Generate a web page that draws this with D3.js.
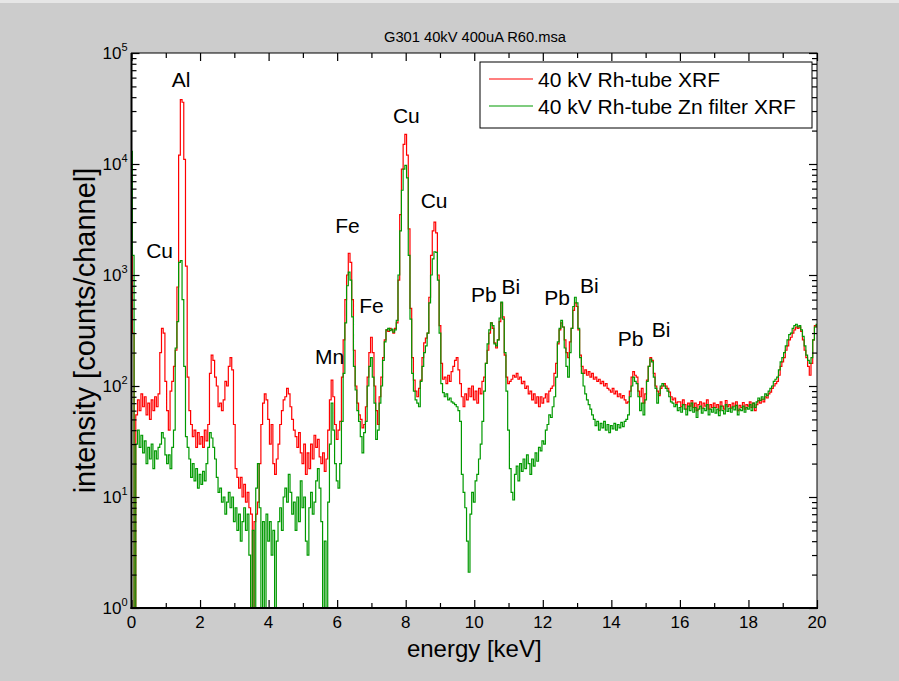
<!DOCTYPE html>
<html>
<head>
<meta charset="utf-8">
<script src="https://cdn.jsdelivr.net/npm/d3@7"></script>
<style>
  body { margin: 0; background: #cccccc; }
  svg { display: block; font-family: "Liberation Sans", Arial, sans-serif; }
</style>
</head>
<body>
<svg id="chart" width="899" height="681"></svg>
<script>
// channel grid: 0 .. 20 keV in 0.05 keV steps (401 channels)
var step = 0.05;

// 40 kV Rh-tube XRF, counts per channel (one row per keV)
var redCounts = [
  5000,300,0.5,55,75,60,85,65,80,55,70,50,75,60,80,65,85,200,330,300,
  110,60,40,90,110,150,210,780,12000,38000,36000,11000,1200,120,60,45,35,40,28,38,
  30,35,28,40,32,45,130,190,170,120,100,65,70,60,75,110,100,150,180,140,
  45,18,15,12,15,10,13,9,11,8,7,0.5,6,7,9,20,45,70,85,75,
  50,30,45,20,16,22,30,45,60,75,80,95,85,65,50,40,35,28,38,25,
  20,30,16,25,18,30,22,36,28,33,23,20,25,17,22,40,75,113,80,45,
  33,40,48,120,260,600,1000,1570,1300,600,210,100,70,55,50,42,45,65,120,200,
  275,200,100,60,45,80,120,180,260,320,310,330,320,300,330,370,900,3500,9000,15000,
  18500,12000,2600,500,180,113,90,80,95,113,180,245,270,300,630,1500,2500,3000,2400,1000,
  350,160,115,120,105,125,110,135,150,170,180,140,105,80,65,85,75,95,80,100,
  75,90,70,95,85,110,120,160,210,300,370,330,245,220,260,380,560,420,190,120,
  105,110,115,125,120,130,115,120,105,110,95,100,85,90,75,85,70,80,65,80,
  70,78,85,72,90,95,100,130,160,240,320,370,340,260,200,180,250,330,480,560,
  520,320,190,150,130,140,125,135,120,130,115,120,110,115,105,110,100,105,95,92,
  88,95,85,90,80,85,78,82,75,70,72,90,120,135,125,120,90,80,95,70,
  85,113,150,180,170,130,100,90,82,95,100,105,100,95,88,80,75,78,70,72,
  72,65,75,68,62,70,66,74,64,70,60,68,72,63,70,66,75,62,68,64,
  70,64,68,60,72,66,62,74,65,68,63,70,66,72,60,67,64,71,62,68,
  66,72,64,70,60,68,74,70,76,72,80,78,85,88,95,100,105,110,125,150,
  165,180,210,230,260,275,300,320,340,330,340,310,260,210,180,150,125,160,260,350,
  340
];

// 40 kV Rh-tube Zn filter XRF
var greenCounts = [
  13000,1500,0.5,30,40,28,36,25,32,20,28,22,30,18,26,22,28,30,38,34,
  24,20,24,18,28,40,220,380,1300,1350,600,150,35,28,22,15,20,14,18,12,
  16,13,17,14,20,28,38,34,28,22,15,11,12,9,10,7,9,11,8,10,
  6,8,5,7,4,6,8,5,7,3,0.5,5,0.5,12,20,8,0.5,6,0.5,7,
  4,6,3,5,0.5,4,6,8,5,10,12,9,16,11,7,9,5,10,6,14,
  8,10,4,3,8,11,7,9,14,18,12,6,0.5,4,0.5,9,30,70,40,20,
  14,12,20,48,130,370,800,1060,900,420,150,92,60,48,35,25,38,48,100,150,
  180,120,70,33,40,70,100,170,250,320,330,315,325,305,320,390,1000,2500,5800,9000,
  9700,7500,1500,400,130,90,75,70,65,110,150,200,230,300,560,1000,1400,1620,1600,900,
  300,105,87,80,85,75,78,72,70,68,65,60,48,16,11,8,4,2.1,7,11,
  9,14,16,22,30,48,90,160,240,320,370,350,240,230,260,410,570,400,200,90,
  40,18,11,9.4,16,19,14,20,17,22,18,24,20,16,22,19,25,21,28,26,
  32,30,40,45,55,52,65,80,120,250,330,390,340,220,150,120,200,330,520,630,
  560,330,180,130,100,85,75,68,62,55,50,44,48,40,46,42,48,40,45,38,
  44,41,46,40,45,42,47,43,48,50,55,80,100,120,110,105,80,60,70,55,
  75,110,150,175,165,120,95,70,85,100,105,100,95,90,80,72,70,65,68,60,
  64,58,68,62,55,66,60,70,58,64,52,62,66,57,63,60,68,55,62,58,
  64,57,62,54,66,60,56,68,59,63,58,65,61,67,55,62,60,66,58,64,
  62,68,60,70,64,72,78,74,80,76,85,82,90,95,100,110,115,120,140,165,
  180,200,230,260,290,300,330,350,360,340,350,320,280,230,190,170,160,180,260,340,
  360
];

var seriesNames = ["40 kV Rh-tube XRF", "40 kV Rh-tube Zn filter XRF"];
var seriesColors = ["#ff0000", "#009900"];

var xMajor = [0, 2, 4, 6, 8, 10, 12, 14, 16, 18, 20];
var xMinor = [1, 3, 5, 7, 9, 11, 13, 15, 17, 19];
var yDecades = [0, 1, 2, 3, 4, 5];

// element labels: [text, energy, counts at text baseline]
var peakLabels = [
  ["Al", 1.45, 49000],
  ["Cu", 0.82, 1420],
  ["Fe", 6.30, 2400],
  ["Fe", 7.0, 455],
  ["Mn", 5.78, 158],
  ["Cu", 8.02, 23400],
  ["Cu", 8.83, 4000],
  ["Pb", 10.28, 570],
  ["Bi", 11.07, 670],
  ["Pb", 12.42, 537],
  ["Bi", 13.36, 690],
  ["Pb", 14.56, 230],
  ["Bi", 15.45, 276]
];

var W = 899, H = 681;
var pLeft = 131.5, pRight = 817, pTop = 53, pBottom = 608;

var svg = d3.select('#chart');

var x = d3.scaleLinear().domain([0, 20]).range([pLeft, pRight]);
var y = d3.scaleLog().domain([1, 1e5]).range([pBottom, pTop]);

svg.append('rect').attr('width', W).attr('height', H).attr('fill', '#cccccc');
svg.append('rect').attr('width', W).attr('height', 3).attr('fill', '#e6e6e6');

svg.append('rect')
  .attr('x', pLeft).attr('y', pTop)
  .attr('width', pRight - pLeft).attr('height', pBottom - pTop)
  .attr('fill', '#ffffff');

svg.append('clipPath').attr('id', 'plotclip')
  .append('rect')
  .attr('x', pLeft).attr('y', pTop)
  .attr('width', pRight - pLeft).attr('height', pBottom - pTop);

var line = d3.line()
  .x(function(d, i){ return x(i * step); })
  .y(function(d){ return y(Math.max(d, 0.3)); })
  .curve(d3.curveStep);

var plot = svg.append('g').attr('clip-path', 'url(#plotclip)');

[redCounts, greenCounts].forEach(function(vals, k){
  plot.append('path')
    .datum(vals)
    .attr('fill', 'none')
    .attr('stroke', seriesColors[k])
    .attr('stroke-width', 1.2)
    .attr('d', line);
});

// ticks (inward) on all four sides
function tickGroup(axis, tx, ty){
  var g = svg.append('g')
    .attr('transform', 'translate(' + tx + ',' + ty + ')')
    .call(axis);
  g.select('.domain').remove();
  g.selectAll('.tick line').attr('stroke', '#000').attr('stroke-width', 1.2);
  return g;
}

var yMinorVals = [];
yDecades.slice(0, -1).forEach(function(p){
  for (var m = 2; m <= 9; m++) yMinorVals.push(m * Math.pow(10, p));
});
var yMajorVals = yDecades.map(function(p){ return Math.pow(10, p); });

tickGroup(d3.axisBottom(x).tickValues(xMajor).tickSize(-8).tickFormat(''), 0, pBottom);
tickGroup(d3.axisBottom(x).tickValues(xMinor).tickSize(-5).tickFormat(''), 0, pBottom);
tickGroup(d3.axisTop(x).tickValues(xMajor).tickSize(-8).tickFormat(''), 0, pTop);
tickGroup(d3.axisTop(x).tickValues(xMinor).tickSize(-5).tickFormat(''), 0, pTop);
tickGroup(d3.axisLeft(y).tickValues(yMajorVals).tickSize(-8).tickFormat(''), pLeft, 0);
tickGroup(d3.axisLeft(y).tickValues(yMinorVals).tickSize(-5).tickFormat(''), pLeft, 0);
tickGroup(d3.axisRight(y).tickValues(yMajorVals).tickSize(-8).tickFormat(''), pRight, 0);
tickGroup(d3.axisRight(y).tickValues(yMinorVals).tickSize(-5).tickFormat(''), pRight, 0);

// frame
svg.append('rect')
  .attr('x', pLeft).attr('y', pTop)
  .attr('width', pRight - pLeft).attr('height', pBottom - pTop)
  .attr('fill', 'none').attr('stroke', '#000').attr('stroke-width', 1);
svg.append('line')
  .attr('x1', pLeft).attr('x2', pLeft).attr('y1', pTop).attr('y2', pBottom + 1)
  .attr('stroke', '#000').attr('stroke-width', 2);
svg.append('line')
  .attr('x1', pLeft - 1).attr('x2', pRight + 1).attr('y1', pBottom).attr('y2', pBottom)
  .attr('stroke', '#000').attr('stroke-width', 2);

// x tick labels
svg.append('g').selectAll('text')
  .data(xMajor)
  .enter()
  .append('text')
  .attr('x', function(d){ return x(d); })
  .attr('y', pBottom + 20)
  .attr('text-anchor', 'middle')
  .attr('font-size', 17)
  .text(function(d){ return d; });

// y tick labels 10^n
var ylab = svg.append('g').selectAll('text')
  .data(yDecades)
  .enter()
  .append('text')
  .attr('x', pLeft - 4)
  .attr('y', function(d){ return y(Math.pow(10, d)) + 6; })
  .attr('text-anchor', 'end')
  .attr('font-size', 17);
ylab.append('tspan').text('10');
ylab.append('tspan')
  .attr('font-size', 11)
  .attr('dy', -8)
  .text(function(d){ return d; });

// axis titles
svg.append('text')
  .attr('x', (pLeft + pRight) / 2)
  .attr('y', 657)
  .attr('text-anchor', 'middle')
  .attr('font-size', 24)
  .text('energy [keV]');

svg.append('text')
  .attr('transform', 'translate(95,' + (pTop + pBottom) / 2 + ') rotate(-90)')
  .attr('text-anchor', 'middle')
  .attr('font-size', 29)
  .text('intensity [counts/channel]');

// title
svg.append('text')
  .attr('x', 475)
  .attr('y', 42)
  .attr('text-anchor', 'middle')
  .attr('font-size', 14.7)
  .text('G301 40kV 400uA R60.msa');

// element labels
svg.append('g').selectAll('text')
  .data(peakLabels)
  .enter()
  .append('text')
  .attr('x', function(d){ return x(d[1]); })
  .attr('y', function(d){ return y(d[2]); })
  .attr('text-anchor', 'middle')
  .attr('font-size', 21)
  .text(function(d){ return d[0]; });

// legend
var legend = svg.append('g');
legend.append('rect')
  .attr('x', 480).attr('y', 62)
  .attr('width', 332).attr('height', 66)
  .attr('fill', '#ffffff')
  .attr('stroke', '#000').attr('stroke-width', 1);
seriesNames.forEach(function(name, i){
  var ly = 79 + i * 27;
  legend.append('line')
    .attr('x1', 489).attr('x2', 533)
    .attr('y1', ly).attr('y2', ly)
    .attr('stroke', seriesColors[i]).attr('stroke-width', 1.2);
  legend.append('text')
    .attr('x', 538).attr('y', ly + 8)
    .attr('font-size', 21)
    .text(name);
});
</script>
</body>
</html>
